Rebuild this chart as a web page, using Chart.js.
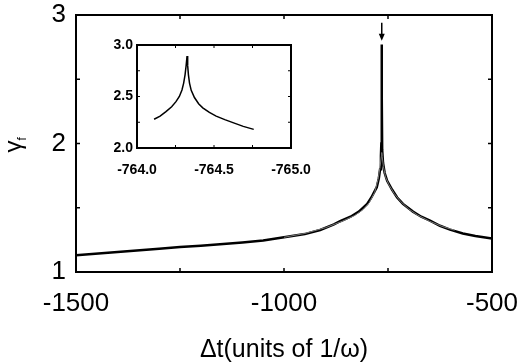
<!DOCTYPE html>
<html lang="en">
<head>
  <meta charset="UTF-8">
  <title>gamma_f vs delta t</title>
  <script src="https://cdn.jsdelivr.net/npm/chart.js"></script>
  <style>
    body {
      margin: 0;
      padding: 0;
      background: #fff;
    }
    .wrap {
      position: relative;
      width: 524px;
      height: 364px;
    }
    #mainChart {
      position: absolute;
      left: 0;
      top: 0;
    }
    #insetChart {
      position: absolute;
      left: 100px;
      top: 35px;
    }
  </style>
</head>
<body>
  <div class="wrap">
    <canvas id="mainChart" width="524" height="364"></canvas>
    <canvas id="insetChart" width="215" height="145"></canvas>
  </div>

  <script>
    // main panel: thick black curve
    const mainX = [-1500, -1400, -1300, -1250, -1200, -1100, -1050, -1000, -950, -913, -880, -865, -840, -820, -800, -790, -777, -772, -769, -767, -766, -765.3, -765, -764.7, -764, -762, -758, -752, -740, -728, -714, -690, -670, -649, -625, -601, -570, -540, -500];
    const mainY = [1.13, 1.155, 1.18, 1.195, 1.205, 1.23, 1.245, 1.27, 1.295, 1.327, 1.37, 1.395, 1.43, 1.47, 1.53, 1.58, 1.66, 1.73, 1.80, 1.90, 2.0, 2.4, 2.77, 2.35, 1.95, 1.85, 1.77, 1.71, 1.64, 1.58, 1.53, 1.47, 1.43, 1.40, 1.36, 1.33, 1.30, 1.28, 1.26];

    // main panel: thinner grey curve around the peak
    const grayX = [-1000, -950, -900, -860, -830, -810, -795, -782, -774, -769, -766, -765, -764, -761, -756, -748, -735, -720, -700, -680, -650, -620, -590];
    const grayY = [1.27, 1.30, 1.345, 1.395, 1.44, 1.485, 1.54, 1.62, 1.72, 1.82, 1.90, 1.93, 1.90, 1.82, 1.74, 1.68, 1.61, 1.55, 1.49, 1.445, 1.395, 1.355, 1.325];

    // inset (zoom on the spike)
    const insetX = [-764.111, -764.15, -764.188, -764.225, -764.253, -764.275, -764.292, -764.303, -764.312, -764.319, -764.325,
                    -764.329, -764.334, -764.341, -764.352, -764.373, -764.40, -764.427, -764.47, -764.514, -764.57, -764.623, -764.69, -764.758];
    const insetY = [2.279, 2.31, 2.353, 2.40, 2.45, 2.50, 2.563, 2.63, 2.71, 2.80, 2.893,
                    2.80, 2.71, 2.63, 2.56, 2.49, 2.43, 2.39, 2.345, 2.31, 2.275, 2.246, 2.21, 2.181];

    // arrow marking the spike
    const arrowX = -765;
    const arrowFrom = 2.94;
    const arrowTo = 2.8;

    const FONT = "'Liberation Sans', Arial, sans-serif";

    function toPoints(xs, ys) {
      return xs.map((x, i) => ({ x: x, y: ys[i] }));
    }

    // keep the label overhang from shrinking the plot area
    function noPad(s) {
      s.paddingLeft = 0;
      s.paddingRight = 0;
      s.paddingTop = 0;
      s.paddingBottom = 0;
    }

    // box around the plot area + inward ticks on all four sides
    const framePlugin = {
      id: 'frame',
      afterDatasetsDraw(chart, args, opts) {
        const { ctx, chartArea: a, scales: { x, y } } = chart;
        ctx.save();
        ctx.strokeStyle = '#000';
        ctx.lineWidth = opts.tickWidth;
        ctx.beginPath();
        x.ticks.forEach(t => {
          const px = x.getPixelForValue(t.value);
          ctx.moveTo(px, a.bottom);
          ctx.lineTo(px, a.bottom - opts.tickLen);
          ctx.moveTo(px, a.top);
          ctx.lineTo(px, a.top + opts.tickLen);
        });
        y.ticks.forEach(t => {
          const py = y.getPixelForValue(t.value);
          ctx.moveTo(a.left, py);
          ctx.lineTo(a.left + opts.tickLen, py);
          ctx.moveTo(a.right, py);
          ctx.lineTo(a.right - opts.tickLen, py);
        });
        ctx.stroke();
        ctx.lineWidth = opts.width;
        ctx.strokeRect(a.left, a.top, a.width, a.height);
        ctx.restore();
      }
    };

    const arrowPlugin = {
      id: 'arrow',
      afterDatasetsDraw(chart) {
        const { ctx, scales: { x, y } } = chart;
        const px = x.getPixelForValue(arrowX);
        const y0 = y.getPixelForValue(arrowFrom);
        const y1 = y.getPixelForValue(arrowTo);
        ctx.save();
        ctx.strokeStyle = '#000';
        ctx.fillStyle = '#000';
        ctx.lineWidth = 1.5;
        ctx.beginPath();
        ctx.moveTo(px, y0);
        ctx.lineTo(px, y1 - 5);
        ctx.stroke();
        ctx.beginPath();
        ctx.moveTo(px - 3, y1 - 7);
        ctx.lineTo(px + 3, y1 - 7);
        ctx.lineTo(px, y1);
        ctx.closePath();
        ctx.fill();
        ctx.restore();
      }
    };

    // rotated y label: gamma with subscript f
    const yLabelPlugin = {
      id: 'ylabel',
      afterDraw(chart) {
        const { ctx, chartArea: a } = chart;
        const cy = (a.top + a.bottom) / 2;
        ctx.save();
        ctx.translate(21, cy);
        ctx.rotate(-Math.PI / 2);
        ctx.fillStyle = '#000';
        ctx.textBaseline = 'alphabetic';
        ctx.font = '24px ' + FONT;
        ctx.fillText('\u03b3', -9, 0);
        ctx.font = '12px ' + FONT;
        ctx.fillText('f', 3, 5);
        ctx.restore();
      }
    };

    new Chart(document.getElementById('mainChart'), {
      type: 'line',
      data: {
        datasets: [
          { label: 'thin', data: toPoints(grayX, grayY), borderColor: '#777', borderWidth: 1, pointRadius: 0, tension: 0 },
          { label: 'main', data: toPoints(mainX, mainY), borderColor: '#000', borderWidth: 2.5, pointRadius: 0, tension: 0 }
        ]
      },
      options: {
        responsive: false,
        animation: false,
        layout: { padding: { top: 15, right: 32, left: 0, bottom: 0 } },
        plugins: {
          legend: { display: false },
          tooltip: { enabled: false },
          frame: { width: 2, tickWidth: 1.5, tickLen: 4 }
        },
        scales: {
          x: {
            type: 'linear',
            min: -1500,
            max: -500,
            grid: { display: false, drawTicks: false },
            border: { display: false },
            ticks: {
              stepSize: 250,
              autoSkip: false,
              maxRotation: 0,
              padding: 16,
              color: '#000',
              font: { family: FONT, size: 26 },
              callback: v => (v % 500 === 0 ? String(v) : '')
            },
            title: {
              display: true,
              text: '\u0394t(units of 1/\u03c9)',
              color: '#000',
              font: { family: FONT, size: 25 },
              padding: { top: 0, bottom: -1 }
            },
            afterFit: s => { s.height = 92; noPad(s); }
          },
          y: {
            min: 1,
            max: 3,
            grid: { display: false, drawTicks: false },
            border: { display: false },
            ticks: {
              stepSize: 0.5,
              autoSkip: false,
              padding: 10,
              color: '#000',
              font: { family: FONT, size: 26 },
              callback: v => (Number.isInteger(v) ? String(v) : '')
            },
            afterFit: s => { s.width = 76; noPad(s); }
          }
        }
      },
      plugins: [framePlugin, arrowPlugin, yLabelPlugin]
    });

    new Chart(document.getElementById('insetChart'), {
      type: 'line',
      data: {
        datasets: [
          { label: 'inset', data: toPoints(insetX, insetY), borderColor: '#000', borderWidth: 1.5, pointRadius: 0, tension: 0 }
        ]
      },
      options: {
        responsive: false,
        animation: false,
        layout: { padding: { top: 10, right: 24, left: 0, bottom: 0 } },
        plugins: {
          legend: { display: false },
          tooltip: { enabled: false },
          frame: { width: 2, tickWidth: 1, tickLen: 3 }
        },
        scales: {
          x: {
            type: 'linear',
            min: -765,
            max: -764,
            reverse: true,
            grid: { display: false, drawTicks: false },
            border: { display: false },
            ticks: {
              stepSize: 0.25,
              autoSkip: false,
              maxRotation: 0,
              padding: 14,
              color: '#000',
              font: { family: FONT, size: 14, weight: 'bold' },
              callback: v => (Math.abs(v * 2 - Math.round(v * 2)) < 1e-6 ? v.toFixed(1) : '')
            },
            afterFit: s => { s.height = 32; noPad(s); }
          },
          y: {
            min: 2,
            max: 3,
            grid: { display: false, drawTicks: false },
            border: { display: false },
            ticks: {
              stepSize: 0.25,
              autoSkip: false,
              padding: 4,
              color: '#000',
              font: { family: FONT, size: 14, weight: 'bold' },
              callback: v => (Math.abs(v * 2 - Math.round(v * 2)) < 1e-6 ? v.toFixed(1) : '')
            },
            afterFit: s => { s.width = 37; noPad(s); }
          }
        }
      },
      plugins: [framePlugin]
    });
  </script>
</body>
</html>
